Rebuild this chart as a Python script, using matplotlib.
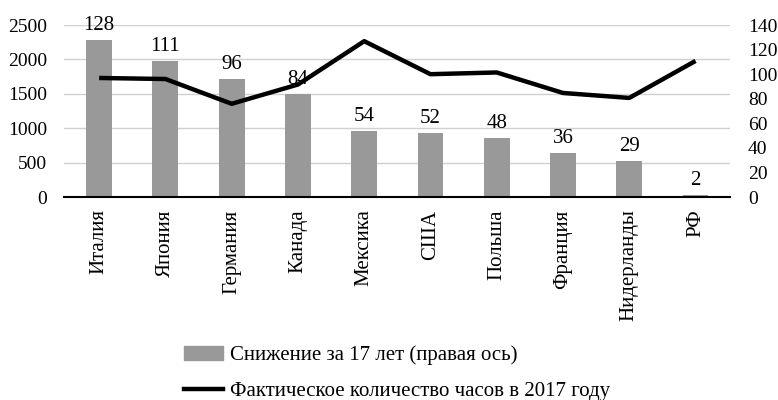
# Часы работы: фактическое количество в 2017 году и снижение за 17 лет
import matplotlib.pyplot as plt
from matplotlib.patches import Patch
from matplotlib.lines import Line2D

plt.rcParams['font.family'] = ['Liberation Serif', 'DejaVu Serif']

countries = ['Италия', 'Япония', 'Германия', 'Канада', 'Мексика',
             'США', 'Польша', 'Франция', 'Нидерланды', 'РФ']
decline = [128, 111, 96, 84, 54, 52, 48, 36, 29, 2]          # правая ось
hours_2017 = [1730, 1715, 1355, 1635, 2265, 1785, 1810, 1512, 1440, 1978]  # левая ось

fig = plt.figure(figsize=(7.78, 4), dpi=100)
ax = fig.add_axes([0.0823, 0.5075, 0.856, 0.43])
ax2 = ax.twinx()

x = range(len(countries))

# bars on the right axis
ax2.bar(x, decline, width=0.39, color='#999999', zorder=2)
for xi, v in zip(x, decline):
    ax2.text(xi, v + 4, str(v), ha='center', va='bottom', fontsize=15, clip_on=False)

# line on the left axis
ax.plot(x, hours_2017, color='black', lw=3.2, zorder=3, solid_capstyle='butt')
ax.set_zorder(ax2.get_zorder() + 1)
ax.patch.set_visible(False)

ax.set_ylim(0, 2500)
ax.set_yticks(range(0, 2501, 500))
ax2.set_ylim(0, 140)
ax2.set_yticks(range(0, 141, 20))
ax.set_xlim(-0.53, 9.52)

ax2.grid(False)
for yv in range(500, 2501, 500):
    ax2.axhline(yv / 2500 * 140, color='#d0d0d0', lw=1, zorder=0)

ax.set_xticks(list(x))
ax.set_xticklabels(countries, rotation=90, fontsize=15)

for a in (ax, ax2):
    for s in ('top', 'left', 'right'):
        a.spines[s].set_visible(False)
    a.tick_params(length=0, labelsize=14)
ax.tick_params(axis='x', labelsize=15, pad=9)
ax.tick_params(axis='y', pad=12)
ax2.tick_params(axis='y', pad=13)
ax2.spines['bottom'].set_visible(False)
ax.spines['bottom'].set_color('black')
ax.spines['bottom'].set_linewidth(1.5)

handles = [Patch(color='#999999'), Line2D([0], [0], color='black', lw=3.2)]
labels = ['Снижение за 17 лет (правая ось)', 'Фактическое количество часов в 2017 году']
fig.legend(handles, labels, loc='upper left', bbox_to_anchor=(0.2225, 0.1625),
           frameon=False, fontsize=15, handlelength=1.9, handletextpad=0.33,
           labelspacing=0.8, borderpad=0)

plt.savefig('out.png', dpi=100)
